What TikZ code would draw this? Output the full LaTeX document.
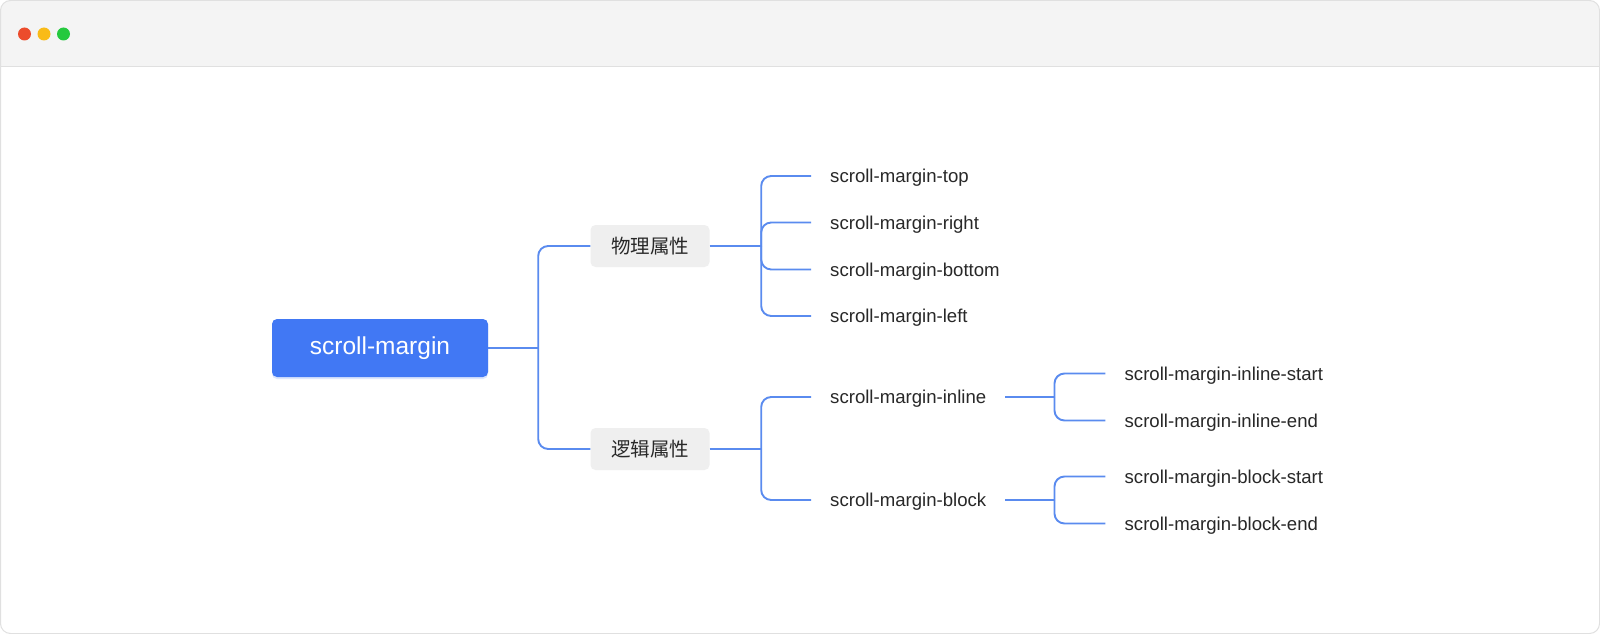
\documentclass[tikz,border=0pt]{standalone}
\usepackage{fontspec}
\setmainfont{Liberation Sans}
\newfontfamily\cjkfont{Noto Sans CJK SC}
\usetikzlibrary{shadows}
\definecolor{rootblue}{RGB}{65,120,244}
\definecolor{linkblue}{RGB}{90,139,239}
\definecolor{catgray}{RGB}{239,239,239}
\definecolor{bargray}{RGB}{244,244,244}
\definecolor{framegray}{RGB}{224,224,224}
\definecolor{inkgray}{RGB}{40,40,40}
\definecolor{dotred}{RGB}{236,76,44}
\definecolor{dotyellow}{RGB}{249,187,24}
\definecolor{dotgreen}{RGB}{37,201,62}

\tikzset{
  rootbox/.style={rounded corners=5pt, fill=rootblue, text=white, minimum width=216pt,
    minimum height=58pt, font=\fontsize{24.5}{27}\selectfont,
    drop shadow={shadow xshift=0pt, shadow yshift=-2pt, opacity=0.18, fill=rootblue}},
  catbox/.style={rounded corners=5pt, fill=catgray, text=inkgray, minimum width=119pt,
    minimum height=42pt, font=\cjkfont\fontsize{19.5}{22}\selectfont},
  leaf/.style={anchor=west, inner xsep=19pt, text=inkgray, text depth=0pt,
    font=\fontsize{18.6}{21}\selectfont},
  link/.style={draw=linkblue, line width=1.9pt, rounded corners=10pt}
}

\begin{document}
\begin{tikzpicture}[x=1pt, y=-1pt]
        \useasboundingbox (0,0) rectangle (1600,634);

        % Window frame and title bar
        \begin{scope}
            \clip[rounded corners=10pt] (0.5,0.5) rectangle (1599.5,633.5);
            \fill[white] (0,0) rectangle (1600,634);
            \fill[bargray] (0,0) rectangle (1600,67);
            \draw[framegray, line width=1pt] (0,67) -- (1600,67);
        \end{scope}
        \draw[framegray, line width=1pt, rounded corners=10pt] (0.5,0.5) rectangle (1599.5,633.5);
        \fill[dotred] (24.5,34) circle (6.5pt);
        \fill[dotyellow] (44,34) circle (6.5pt);
        \fill[dotgreen] (63.5,34) circle (6.5pt);

        % Root and the two groups
        \node[rootbox] (root) at (380,348) {scroll-margin};
        \node[catbox] (phys) at (650,246) {物理属性};
        \node[catbox] (logic) at (650,449) {逻辑属性};

        \draw[link] (root.east) -- ++(50,0) coordinate (trunk);
        \draw[link] (trunk) |- (phys.west);
        \draw[link] (trunk) |- (logic.west);

        % Physical properties
        \draw[link] (phys.east) -- ++(51.5,0) coordinate (hubA);
        \foreach \nm/\y in {top/176, right/222.5, bottom/269.5, left/316}
        {
            \node[leaf] (\nm) at (811,\y) {scroll-margin-\nm};
            \draw[link] (hubA) |- (\nm.west);
        }

        % Logical properties
        \draw[link] (logic.east) -- ++(51.5,0) coordinate (hubB);
        \node[leaf] (inline) at (811,397) {scroll-margin-inline};
        \node[leaf] (block) at (811,500) {scroll-margin-block};
        \draw[link] (hubB) |- (inline.west);
        \draw[link] (hubB) |- (block.west);

        \foreach \grp in {inline, block}
        {
            \draw[link] (\grp.east) -- ++(49,0) coordinate (hub-\grp);
            \node[leaf] (\grp-start) at ([xshift=51pt, yshift=23.5pt]hub-\grp) {scroll-margin-\grp-start};
            \node[leaf] (\grp-end) at ([xshift=51pt, yshift=-23.5pt]hub-\grp) {scroll-margin-\grp-end};
            \draw[link] (hub-\grp) |- (\grp-start.west);
            \draw[link] (hub-\grp) |- (\grp-end.west);
        }
\end{tikzpicture}
\end{document}
